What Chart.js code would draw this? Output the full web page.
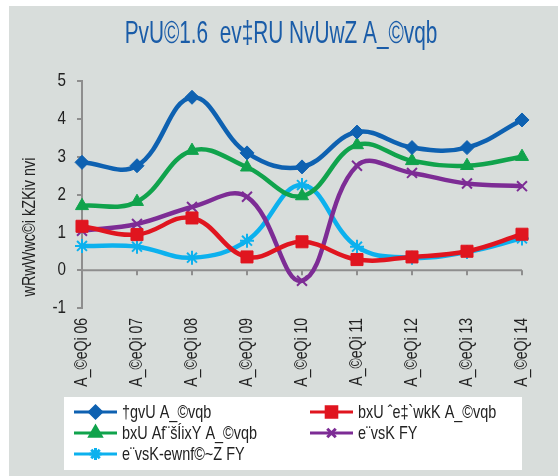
<!DOCTYPE html>
<html>
<head>
<meta charset="UTF-8">
<title>PvU©1.6 ev‡RU NvUwZ A_©vqb</title>
<script src="https://cdn.jsdelivr.net/npm/chart.js"></script>
<style>
    html, body { margin: 0; padding: 0; background: #ffffff; }
    .box {
        position: absolute;
        left: 9px; top: 6px;
        width: 549px; height: 470px;
        background: #d8dddb;
    }
</style>
</head>
<body>
<div class="box"><canvas id="c"></canvas></div>
<script>
// data (% of GDP)
const years = ['A_©eQi 06', 'A_©eQi 07', 'A_©eQi 08', 'A_©eQi 09', 'A_©eQi 10',
               'A_©eQi 11', 'A_©eQi 12', 'A_©eQi 13', 'A_©eQi 14'];
const total    = [2.85, 2.76, 4.57, 3.10, 2.73, 3.65, 3.24, 3.24, 3.97];
const foreign  = [1.16, 0.94, 1.38, 0.35, 0.75, 0.28, 0.35, 0.50, 0.95];
const domestic = [1.70, 1.81, 3.16, 2.72, 1.96, 3.31, 2.89, 2.76, 3.00];
const bank     = [1.04, 1.22, 1.67, 1.94, -0.28, 2.76, 2.57, 2.29, 2.22];
const nonBank  = [0.64, 0.62, 0.33, 0.78, 2.25, 0.62, 0.33, 0.48, 0.84];
const yTicks   = [-1, 0, 1, 2, 3, 4, 5];

// narrow look: Liberation Sans squeezed sideways
const FONT = '"Liberation Sans", Arial, sans-serif';
const SQUEEZE = 0.8;

function narrowText(ctx, text, x, y, size, opts) {
    opts = opts || {};
    ctx.save();
    ctx.font = size + 'px ' + FONT;
    ctx.fillStyle = opts.color || '#222';
    ctx.textAlign = opts.align || 'left';
    ctx.textBaseline = 'middle';
    ctx.translate(x, y);
    if (opts.rotate) ctx.rotate(opts.rotate);
    ctx.scale(opts.squeeze || SQUEEZE, 1);
    ctx.fillText(text, 0, 0);
    ctx.restore();
}

function series(label, data, color, style, r) {
    return {
        label: label, data: data,
        borderColor: color, backgroundColor: color,
        borderWidth: 4.5, tension: 0.4,
        pointStyle: style, pointRadius: r, pointHoverRadius: r,
        pointBorderWidth: style.startsWith('cross') || style === 'star' ? 2 : 1
    };
}

const extras = {
    id: 'extras',
    beforeDatasetsDraw(chart) {
        const ctx = chart.ctx, x = chart.scales.x, y = chart.scales.y;
        const y0 = y.getPixelForValue(0);
        ctx.save();
        ctx.strokeStyle = '#8e8e8e';
        ctx.lineWidth = 2;
        ctx.beginPath();
        ctx.moveTo(chart.chartArea.left, y0);
        ctx.lineTo(chart.chartArea.right, y0);
        years.forEach((_, i) => {
            const px = x.getPixelForValue(i);
            ctx.moveTo(px, y0);
            ctx.lineTo(px, y0 + 5);
        });
        ctx.stroke();
        ctx.restore();
    },
    afterDraw(chart) {
        const ctx = chart.ctx, x = chart.scales.x, y = chart.scales.y;
        // tick labels
        yTicks.forEach(v => narrowText(ctx, String(v), 57, y.getPixelForValue(v), 19, { align: 'right' }));
        years.forEach((t, i) => narrowText(ctx, t, x.getPixelForValue(i), chart.chartArea.bottom + 10, 17.5,
            { align: 'right', rotate: -Math.PI / 2 }));
        // title and y title
        narrowText(ctx, 'PvU©1.6  ev‡RU NvUwZ A_©vqb', 272, 28, 32, { align: 'center', color: '#1a5ca8', squeeze: 0.65 });
        narrowText(ctx, 'wRwWwc©i kZKiv nvi', 21, 221, 19, { align: 'center', rotate: -Math.PI / 2, squeeze: 0.76 });
        // legend
        ctx.save();
        ctx.fillStyle = '#ffffff';
        ctx.fillRect(55, 391, 458, 73);
        const cols = [65, 301], rows = [406, 427, 448];
        chart.data.datasets.forEach((ds, i) => {
            const lx = cols[i % 2], ly = rows[Math.floor(i / 2)];
            ctx.strokeStyle = ds.borderColor;
            ctx.lineWidth = 3;
            ctx.beginPath();
            ctx.moveTo(lx, ly);
            ctx.lineTo(lx + 43, ly);
            ctx.stroke();
            ctx.fillStyle = ds.backgroundColor;
            Chart.helpers.drawPoint(ctx, {
                pointStyle: ds.pointStyle, radius: ds.pointRadius - 1,
                borderWidth: ds.pointBorderWidth, rotation: 0
            }, lx + 21.5, ly);
            narrowText(ctx, ds.label, lx + 48, ly + 1, 19, { squeeze: 0.76 });
        });
        ctx.restore();
    }
};

new Chart(document.getElementById('c'), {
    type: 'line',
    data: {
        labels: years,
        datasets: [
            series('†gvU A_©vqb', total, '#0e61b1', 'rectRot', 7),
            series('bxU ˆe‡`wkK A_©vqb', foreign, '#e0151f', 'rect', 8.5),
            series('bxU Af¨šÍixY A_©vqb', domestic, '#10a34c', 'triangle', 7.5),
            series('e¨vsK FY', bank, '#7d2c95', 'crossRot', 7),
            series('e¨vsK-ewnf©~Z FY', nonBank, '#0cb1ee', 'star', 7)
        ]
    },
    options: {
        responsive: true,
        maintainAspectRatio: false,
        animation: false,
        layout: { padding: { top: 75, right: 36, left: 0, bottom: 0 } },
        plugins: {
            legend: { display: false },
            title: { display: false },
            tooltip: { enabled: false }
        },
        scales: {
            x: {
                offset: false,
                grid: { display: false },
                border: { display: false },
                ticks: { display: false },
                afterFit: s => { s.height = 168; }
            },
            y: {
                min: -1, max: 5,
                afterBuildTicks: s => { s.ticks = yTicks.map(v => ({ value: v })); },
                grid: { drawOnChartArea: false, drawTicks: true, tickLength: 5, color: '#8e8e8e', lineWidth: 2 },
                border: { display: true, color: '#8e8e8e', width: 2 },
                ticks: { display: false },
                afterFit: s => { s.width = 73; }
            }
        }
    },
    plugins: [extras]
});
</script>
</body>
</html>
